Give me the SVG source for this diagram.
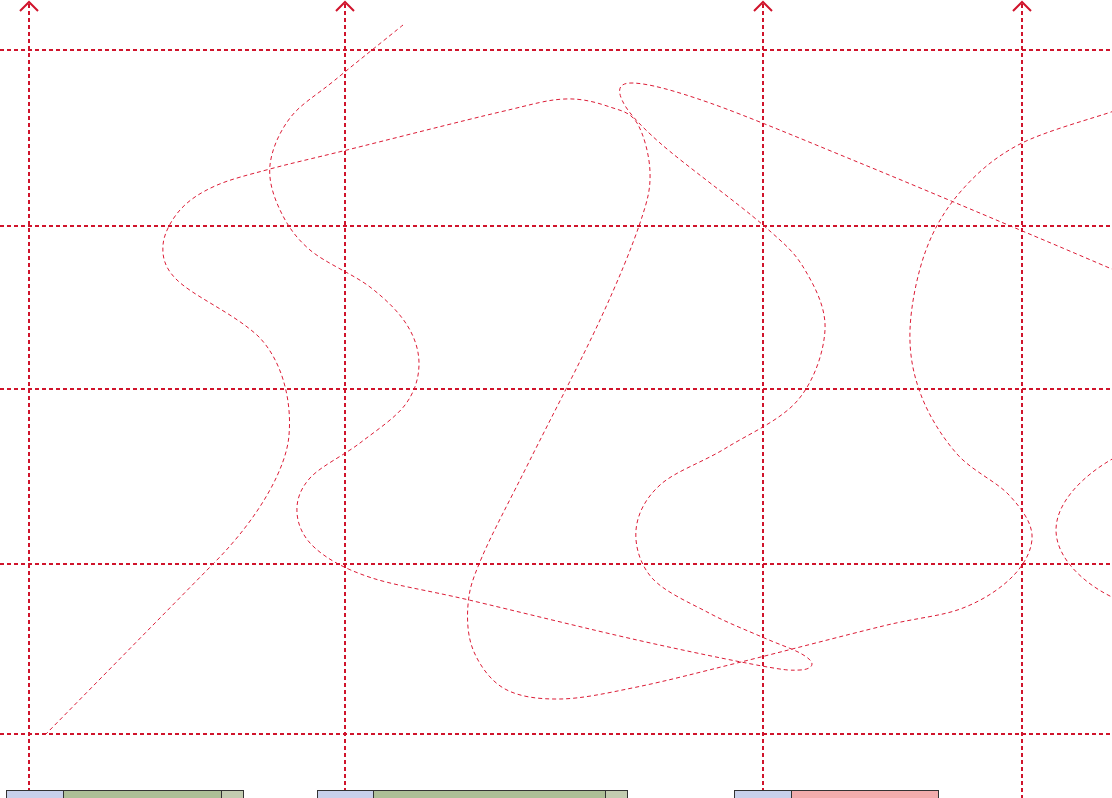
<svg xmlns="http://www.w3.org/2000/svg" width="1112" height="798" viewBox="0 0 1112 798">
<defs>
<style>
.grid{stroke:#d0142c;stroke-width:2;stroke-dasharray:4 3;fill:none}
.arrow{stroke:#d0142c;stroke-width:2;fill:none}
.curve{stroke:#dc1c36;stroke-width:1;stroke-dasharray:4 3;fill:none}
.box{stroke:#333;stroke-width:1}
.blue{fill:#c8d0ea}
.green{fill:#adbf96}
.light{fill:#c3ccb0}
.pink{fill:#f2acac}
</style>
</defs>
<rect width="1112" height="798" fill="#fff"/>
<g id="grid">
<line class="grid" x1="0" y1="50" x2="1112" y2="50"/>
<line class="grid" x1="0" y1="226" x2="1112" y2="226"/>
<line class="grid" x1="0" y1="389" x2="1112" y2="389"/>
<line class="grid" x1="0" y1="564" x2="1112" y2="564"/>
<line class="grid" x1="0" y1="734" x2="1112" y2="734"/>
</g>
<g id="connectors">
<line class="grid" x1="29" y1="4" x2="29" y2="790"/>
<line class="grid" x1="345" y1="4" x2="345" y2="790"/>
<line class="grid" x1="763" y1="4" x2="763" y2="790"/>
<line class="grid" x1="1022" y1="4" x2="1022" y2="798"/>
<polyline class="arrow" points="20,11 29,2 38,11"/>
<polyline class="arrow" points="336,11 345,2 354,11"/>
<polyline class="arrow" points="754,11 763,2 772,11"/>
<polyline class="arrow" points="1013,11 1022,2 1031,11"/>
<path class="curve" d="M403,25 C391.7,34.2 353.8,64.5 335,80 C316.2,95.5 300.8,103.8 290,118 C279.2,132.2 271.7,149.7 270,165 C268.3,180.3 273.3,195.8 280,210 C286.7,224.2 295,237.2 310,250 C325,262.8 353.8,274.5 370,287 C386.2,299.5 398.8,312 407,325 C415.2,338 419.3,351.7 419,365 C418.7,378.3 414.8,392 405,405 C395.2,418 375.8,430.8 360,443 C344.2,455.2 320.5,466.3 310,478 C299.5,489.7 296.2,501.3 297,513 C297.8,524.7 303,537.3 315,548 C327,558.7 343.3,568.3 369,577 C394.7,585.7 424.3,589.5 469,600 C513.7,610.5 588.2,629 637,640 C685.8,651 734.8,661 762,666 C789.2,671 791.7,670.3 800,670 C808.3,669.7 812,666.8 812,664 C812,661.2 808.3,657.5 800,653 C791.7,648.5 777.2,643.7 762,637 C746.8,630.3 727.3,622.8 709,613 C690.7,603.2 664.2,591.8 652,578 C639.8,564.2 634.7,545.5 636,530 C637.3,514.5 645,498.7 660,485 C675,471.3 703,462.2 726,448 C749,433.8 781.5,419.7 798,400 C814.5,380.3 823.8,351.7 825,330 C826.2,308.3 815.3,287.5 805,270 C794.7,252.5 787.2,246.2 763,225 C738.8,203.8 683.5,163.8 660,143 C636.5,122.2 626.5,110 622,100 C617.5,90 618.3,82.5 633,83 C647.7,83.5 672.2,89.7 710,103 C747.8,116.3 808.3,141.8 860,163 C911.7,184.2 978,212.3 1020,230 C1062,247.7 1096.7,262.5 1114,270"/>
<path class="curve" d="M1114,111 C1096.7,117.3 1045,131 1020,144 C995,157 977.7,172.3 962,190 C946.3,207.7 934.7,226.7 926,250 C917.3,273.3 910.8,305.8 910,330 C909.2,354.2 913.2,374.3 921,395 C928.8,415.7 942.3,437.3 957,454 C971.7,470.7 996.5,481.5 1009,495 C1021.5,508.5 1031.2,521.7 1032,535 C1032.8,548.3 1025.5,562.8 1014,575 C1002.5,587.2 984.8,599.5 963,608 C941.2,616.5 920,617 883,626 C846,635 782,651.8 741,662 C700,672.2 667.2,680.8 637,687 C606.8,693.2 582,698.7 560,699 C538,699.3 519.3,696.8 505,689 C490.7,681.2 480.2,666 474,652 C467.8,638 466.7,620.8 468,605 C469.3,589.2 471.7,581.2 482,557 C492.3,532.8 510.3,499.5 530,460 C549.7,420.5 581.7,359.5 600,320 C618.3,280.5 631.7,247.7 640,223 C648.3,198.3 650.5,188.7 650,172 C649.5,155.3 643.7,133.8 637,123 C630.3,112.2 622,111 610,107 C598,103 583.3,98.2 565,99 C546.7,99.8 536.3,103.5 500,112 C463.7,120.5 385.3,140.5 347,150 C308.7,159.5 292,163 270,169 C248,175 230,179.2 215,186 C200,192.8 188.7,200.2 180,210 C171.3,219.8 163.8,233.7 163,245 C162.2,256.3 164.3,266.7 175,278 C192,296 232,312 258,336 C282,360 292,400 289,435 C287,465 262,515 213,564 L45,735"/>
<path class="curve" d="M1114,458 C1082,476 1056,503 1056,530 C1056,558 1084,584 1114,598"/>
</g>
<g id="node1">
<rect class="box blue" x="6.5" y="790.5" width="57" height="12"/>
<rect class="box green" x="63.5" y="790.5" width="158" height="12"/>
<rect class="box light" x="221.5" y="790.5" width="22" height="12"/>
</g>
<g id="node2">
<rect class="box blue" x="317.5" y="790.5" width="56" height="12"/>
<rect class="box green" x="373.5" y="790.5" width="232" height="12"/>
<rect class="box light" x="605.5" y="790.5" width="22" height="12"/>
</g>
<g id="node3">
<rect class="box blue" x="734.5" y="790.5" width="57" height="12"/>
<rect class="box pink" x="791.5" y="790.5" width="147" height="12"/>
</g>
</svg>
